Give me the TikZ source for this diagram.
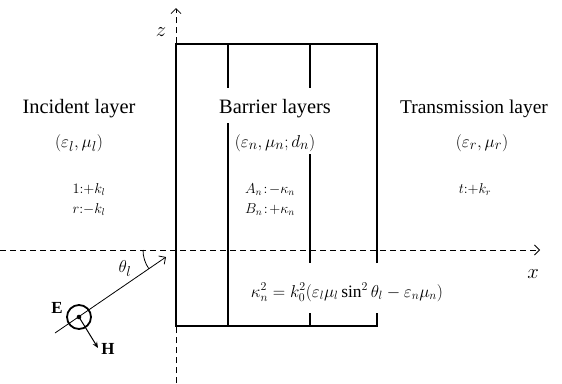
\documentclass[tikz,border=0pt]{standalone}
\usepackage{fontspec}
\setmainfont{Liberation Serif}
\usetikzlibrary{arrows.meta}
\begin{document}
\begin{tikzpicture}[x=1bp,y=-1bp,
  box/.style={line width=1.8bp},
  axis/.style={line width=0.8bp, dash pattern=on 6bp off 4bp,
    -{Straight Barb[length=5bp,width=10bp,line width=0.8bp]}},
  big/.style={font=\fontsize{20.5}{24}\selectfont, anchor=base, inner sep=0pt},
  mth/.style={font=\fontsize{19}{22}\selectfont, anchor=base, inner sep=0pt},
  sml/.style={font=\fontsize{14.5}{18}\selectfont, anchor=base, inner sep=0pt},
  axlab/.style={font=\fontsize{22}{26}\selectfont, anchor=base, inner sep=0pt}]
\useasboundingbox (0,0) rectangle (562,383);
% axes
\coordinate (O) at (176,250);
\coordinate (xs) at (0,250);
\coordinate (xe) at (540,250);
\coordinate (zs) at (176,383);
\coordinate (ze) at (176,8);
\draw[axis] (xs) -- (xe);
\draw[axis] (zs) -- (ze);
% box
\draw[box] (377,263) -- (377,44) -- (176,44) -- (176,326) -- (377,326) -- (377,313);
\draw[box] (228,44) -- (228,88) (228,123) -- (228,326);
\draw[box] (310,44) -- (310,88) (310,154) -- (310,263) (310,313) -- (310,326);
% texts
\node[big] (inc) at (79,113) {Incident layer};
\node[mth] (incp) at (79,147) {$(\varepsilon_l,\mu_l)$};
\node[sml] (inc1) at (89,193) {$1{:}{+}k_l$};
\node[sml] (incr) at (89,213) {$r{:}{-}k_l$};
\node[big] (bar) at (275,113) {Barrier layers};
\node[mth] (barp) at (275,147) {$(\varepsilon_n,\mu_n;d_n)$};
\node[sml] (bara) at (270,193) {$A_n\!:\!-\kappa_n$};
\node[sml] (barb) at (270,213) {$B_n\!:\!+\kappa_n$};
\node[big, font=\fontsize{19.5}{23}\selectfont] (tra) at (474,113) {Transmission layer};
\node[mth] (trap) at (482,147) {$(\varepsilon_r,\mu_r)$};
\node[sml] (trat) at (475,193) {$t{:}{+}k_r$};
\node[mth, font=\fontsize{17.5}{20}\selectfont] (eq) at (347,297) {$\kappa_n^2=k_0^2(\varepsilon_l\mu_l\sin^2\theta_l-\varepsilon_n\mu_n)$};
\node[axlab] (xl) at (533,278) {$x$};
\node[axlab] (zl) at (161,36) {$z$};
% incident wave
\coordinate (ws) at (55,333);
\coordinate (we) at (166,257);
\draw[line width=0.8bp, -{Straight Barb[length=5bp,width=10bp,line width=0.8bp]}] (ws) -- (we);
\draw[line width=0.8bp] (O) ++(180:33) arc[start angle=180, end angle=145.6, radius=33];
\node[mth] (th) at (125,272) {$\theta_l$};
\node[circle, draw, line width=1.8bp, minimum size=24bp, inner sep=0pt] (ec) at (79,317) {};
\fill (ec.center) circle[radius=2.3bp];
\coordinate (ht) at (98,348);
\draw[line width=1bp, -{Stealth[length=6bp,width=5bp]}] (ec.center) -- (ht);
\node[font=\fontsize{17}{20}\selectfont\bfseries, anchor=base, inner sep=0pt] (E) at (57,313) {E};
\node[font=\fontsize{17}{20}\selectfont\bfseries, anchor=base, inner sep=0pt] (H) at (108,354) {H};
\end{tikzpicture}
\end{document}
